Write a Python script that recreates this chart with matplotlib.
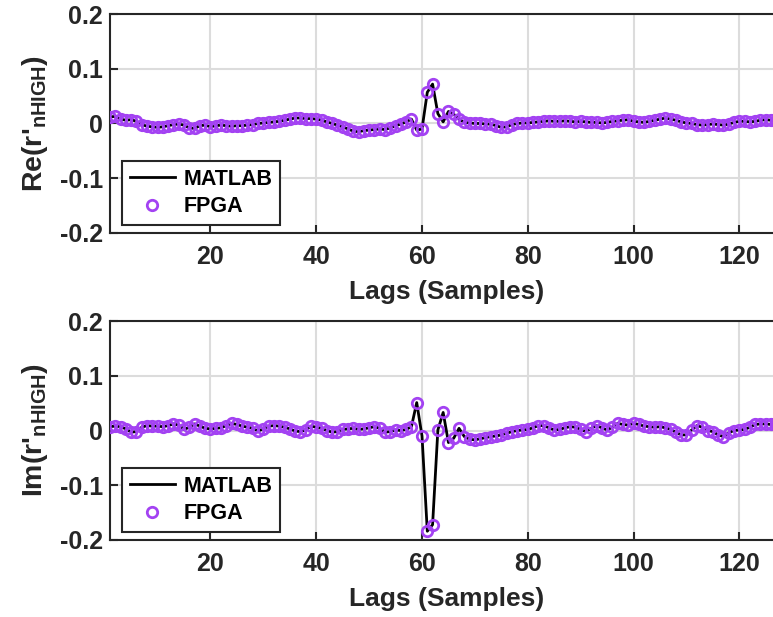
import matplotlib
matplotlib.use("Agg")
import matplotlib.pyplot as plt
import numpy as np

plt.rcParams['font.family'] = ['Liberation Sans', 'DejaVu Sans']
plt.rcParams['font.weight'] = 'bold'
plt.rcParams['mathtext.fontset'] = 'custom'
plt.rcParams['mathtext.rm'] = 'Liberation Sans:bold'
plt.rcParams['mathtext.bf'] = 'Liberation Sans:bold'
plt.rcParams['mathtext.it'] = 'Liberation Sans:bold'

# lag index 1..127
lags = np.arange(1, 128)

re_matlab = [
    0.012, 0.013, 0.008, 0.006, 0.007, 0.004, -0.002, -0.005, -0.006, -0.007,
    -0.006, -0.004, -0.002, -0.001, -0.003, -0.008, -0.009, -0.004, -0.003, -0.006,
    -0.004, -0.003, -0.004, -0.005, -0.004, -0.004, -0.003, -0.002, 0.000, 0.001,
    0.002, 0.003, 0.004, 0.006, 0.008, 0.010, 0.010, 0.009, 0.009, 0.008,
    0.006, 0.003, 0.000, -0.003, -0.006, -0.010, -0.014, -0.015, -0.013, -0.012,
    -0.011, -0.010, -0.011, -0.008, -0.004, -0.001, 0.003, 0.008, -0.012, -0.010,
    0.057, 0.072, 0.018, 0.003, 0.022, 0.017, 0.008, 0.002, 0.001, 0.000,
    0.000, -0.001, -0.001, -0.004, -0.007, -0.006, -0.002, 0.000, 0.001, 0.001,
    0.002, 0.003, 0.004, 0.005, 0.004, 0.004, 0.005, 0.004, 0.003, 0.004,
    0.003, 0.002, 0.002, 0.001, 0.002, 0.004, 0.005, 0.006, 0.007, 0.004,
    0.003, 0.002, 0.004, 0.006, 0.008, 0.010, 0.008, 0.006, 0.003, 0.001,
    0.000, -0.002, -0.003, -0.002, -0.001, -0.002, -0.003, -0.001, 0.002, 0.004,
    0.004, 0.003, 0.004, 0.006, 0.007, 0.006, 0.004,
]

im_matlab = [
    0.007, 0.008, 0.007, 0.003, -0.003, -0.002, 0.006, 0.009, 0.008, 0.008,
    0.007, 0.009, 0.012, 0.010, 0.002, 0.006, 0.012, 0.008, 0.004, 0.003,
    0.004, 0.005, 0.009, 0.013, 0.011, 0.008, 0.006, 0.004, -0.001, 0.003,
    0.008, 0.009, 0.008, 0.006, 0.003, -0.001, -0.002, 0.001, 0.008, 0.006,
    0.004, 0.000, -0.003, -0.002, 0.002, 0.003, 0.004, 0.002, 0.003, 0.005,
    0.007, 0.004, -0.003, -0.002, 0.001, 0.000, 0.002, 0.007, 0.051, -0.010,
    -0.184, -0.172, 0.001, 0.033, -0.022, -0.014, 0.004, -0.011, -0.016, -0.017,
    -0.015, -0.013, -0.011, -0.010, -0.008, -0.005, -0.002, 0.000, 0.001, 0.002,
    0.005, 0.009, 0.009, 0.005, 0.001, 0.002, 0.005, 0.007, 0.006, 0.002,
    -0.002, 0.004, 0.009, 0.005, 0.001, 0.006, 0.013, 0.011, 0.010, 0.013,
    0.011, 0.008, 0.007, 0.006, 0.007, 0.005, 0.002, -0.003, -0.008, -0.008,
    0.001, 0.009, 0.006, 0.000, -0.002, -0.008, -0.011, -0.004, 0.000, 0.001,
    0.002, 0.006, 0.011, 0.012, 0.012, 0.011, 0.012,
]

# FPGA output matches the MATLAB reference at this scale
re_fpga = list(re_matlab)
im_fpga = list(im_matlab)

x_ticks = [20, 40, 60, 80, 100, 120]
y_ticks = [-0.2, -0.1, 0, 0.1, 0.2]
y_ticklabels = ['-0.2', '-0.1', '0', '0.1', '0.2']

purple = '#a342f2'
spine_col = '#262626'

fig = plt.figure(figsize=(7.73, 6.17), dpi=100)
ax_top = fig.add_axes([0.1423, 0.6224, 0.862, 0.3549])
ax_bot = fig.add_axes([0.1423, 0.1248, 0.862, 0.3549])

panels = [
    (ax_top, re_matlab, re_fpga, r"Re(r$'_{\mathrm{nHIGH}}$)"),
    (ax_bot, im_matlab, im_fpga, r"Im(r$'_{\mathrm{nHIGH}}$)"),
]

for ax, y_ml, y_fp, ylab in panels:
    ax.plot(lags, y_ml, color='black', lw=2.0, label='MATLAB', zorder=3)
    ax.plot(lags, y_fp, ls='none', marker='o', ms=7.5, mfc='none', mec=purple,
            mew=2.0, label='FPGA', zorder=4)
    ax.set_xlim(1, 127)
    ax.set_ylim(-0.2, 0.2)
    ax.set_xticks(x_ticks)
    ax.set_yticks(y_ticks)
    ax.set_yticklabels(y_ticklabels)
    ax.grid(True, color='#dcdcdc', lw=1.5)
    ax.set_axisbelow(True)
    ax.tick_params(direction='in', length=6, width=1.5, colors=spine_col,
                   labelsize=18, labelcolor='#262626')
    ax.tick_params(axis='x', pad=9)
    ax.tick_params(axis='y', pad=5)
    for lbl in ax.get_xticklabels() + ax.get_yticklabels():
        lbl.set_fontweight('bold')
    for s in ax.spines.values():
        s.set_linewidth(1.5)
        s.set_color(spine_col)
    ax.set_xlabel('Lags (Samples)', fontsize=19, fontweight='bold', color='#262626')
    ax.xaxis.set_label_coords(0.505, -0.215)
    ax.set_ylabel(ylab, fontsize=20.5, fontweight='bold', color='#262626')
    ax.yaxis.set_label_coords(-0.09, 0.5)
    leg = ax.legend(loc='lower left', bbox_to_anchor=(0.018, 0.037),
                    borderaxespad=0, fancybox=False, framealpha=1,
                    edgecolor=spine_col, fontsize=15.5, handlelength=2.1,
                    handletextpad=0.4, borderpad=0.35, labelspacing=0.3)
    leg.get_frame().set_linewidth(1.5)
    for t in leg.get_texts():
        t.set_fontweight('bold')

fig.savefig('out.png', dpi=100)
